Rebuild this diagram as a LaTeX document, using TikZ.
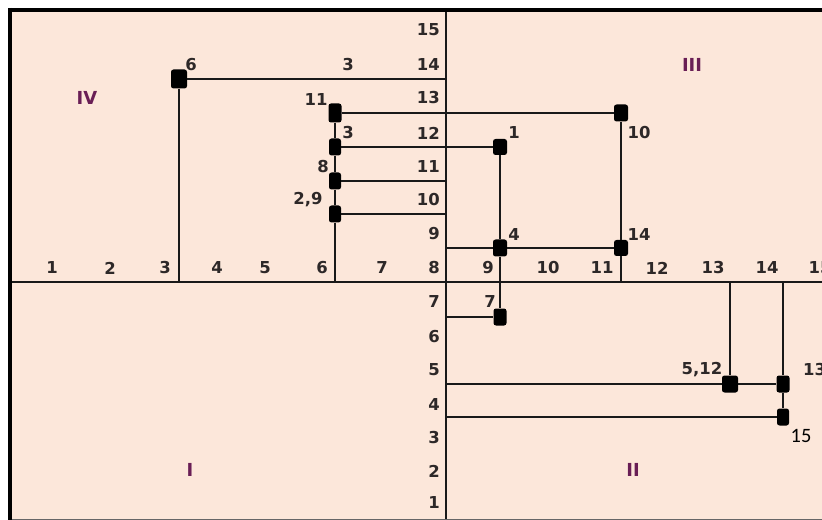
\documentclass[tikz,border=0pt]{standalone}
\usepackage{fontspec}
\setmainfont{DejaVu Sans}
\newfontfamily\plainfont{Carlito}
\definecolor{paper}{RGB}{252,231,218}
\definecolor{numc}{RGB}{45,40,40}
\definecolor{romc}{RGB}{105,30,85}
\definecolor{linec}{RGB}{25,25,25}
\begin{document}
\begin{tikzpicture}[x=1bp,y=-1bp,
  lbl/.style={font=\fontsize{16.5}{16.5}\selectfont\bfseries, text=numc, inner sep=0pt},
  quad/.style={font=\fontsize{18}{18}\selectfont\bfseries, text=romc, inner sep=0pt},
  pt/.style={fill=black, rounded corners=2.5bp, minimum width=13bp, minimum height=17bp, inner sep=0pt},
  link/.style={line width=1.6bp, draw=linec},
  axis/.style={line width=1.9bp, draw=linec},
]
\useasboundingbox (0,0) rectangle (822,520);

% sheet and frame
\fill[paper] (12,12) rectangle (830,519);
\draw[line width=4bp] (10,8) -- (10,520);
\draw[line width=4bp] (8,10) -- (830,10);
\draw[line width=1bp, draw=black!60] (12,519.3) -- (830,519.3);

% axes
\draw[axis] (12,282) -- (830,282);
\draw[axis] (446,12) -- (446,519);

% row numbers along the vertical axis
\foreach \n/\y in {15/30,14/65,13/98,12/133,11/167,10/200,9/234,8/268,
                   7/302,6/337,5/370,4/405,3/438,2/471,1/503}
  \node[lbl, anchor=east] (r\n) at (440,\y) {\n};

% column numbers along the horizontal axis
\foreach \n/\x in {1/52,2/110,3/165,4/217,5/265,6/322,7/382,
                   9/488,10/548,11/602,12/657,13/713,14/767,15/820}
  \node[lbl] (c\n) at (\x,268) {\n};

% quadrant names
\node[quad] (qIV) at (87,98) {IV};
\node[quad] (qIII) at (692,65) {III};
\node[quad] (qI) at (190,470) {I};
\node[quad] (qII) at (633,470) {II};

% points
\node[pt, minimum width=16bp, minimum height=19bp] (p6) at (179,79) {};
\node[pt, minimum height=19bp] (p11) at (335,113) {};
\node[pt, minimum width=12bp] (p3) at (335,147) {};
\node[pt, minimum width=12bp] (p8) at (335,181) {};
\node[pt, minimum width=12bp] (p29) at (335,214) {};
\node[pt, minimum width=14bp, minimum height=16bp] (p1) at (500,147) {};
\node[pt, minimum width=14bp] (p10) at (621,113) {};
\node[pt, minimum width=14bp] (p4) at (500,248) {};
\node[pt, minimum width=14bp, minimum height=16bp] (p14) at (621,248) {};
\node[pt] (p7) at (500,317) {};
\node[pt, minimum width=16bp] (p512) at (730,384) {};
\node[pt] (p13) at (783,384) {};
\node[pt, minimum width=12bp] (p15) at (783,417) {};

% point labels
\node[lbl] (l6) at (191,65) {6};
\node[lbl] (l3a) at (348,65) {3};
\node[lbl] (l11) at (316,100) {11};
\node[lbl] (l3) at (348,133) {3};
\node[lbl] (l8) at (323,167) {8};
\node[lbl] (l29) at (308,200) {2,9};
\node[lbl] (l1) at (514,133) {1};
\node[lbl] (l10) at (639,133) {10};
\node[lbl] (l4) at (514,235) {4};
\node[lbl] (l14) at (639,235) {14};
\node[lbl] (l7) at (490,302) {7};
\node[lbl] (l512) at (702,370) {5,12};
\node[lbl, anchor=west] (l13) at (803,370) {13};
\node[inner sep=0pt, font=\fontsize{20.5}{20.5}\selectfont\plainfont] (l15) at (801,436) {15};

% free ends on the axes
\coordinate (y14) at (446,79);
\coordinate (y12) at (446,147);
\coordinate (y11) at (446,181);
\coordinate (y10) at (446,214);
\coordinate (y9) at (446,248);
\coordinate (y7) at (446,317);
\coordinate (y5) at (446,384);
\coordinate (y4) at (446,417);
\coordinate (x3) at (179,282);
\coordinate (x6) at (335,282);
\coordinate (x11) at (621,282);
\coordinate (x13) at (730,282);
\coordinate (x14) at (783,282);

% connectors
\draw[link] (p6) -- (y14);
\draw[link] (p6) -- (x3);
\draw[link] (p11) -- (p10);
\draw[link] (p11) -- (p3) -- (p8) -- (p29) -- (x6);
\draw[link] (p3) -- (p1);
\draw[link] (p8) -- (y11);
\draw[link] (p29) -- (y10);
\draw[link] (p1) -- (p4) -- (p7);
\draw[link] (p10) -- (p14) -- (x11);
\draw[link] (y9) -- (p4) -- (p14);
\draw[link] (y7) -- (p7);
\draw[link] (y5) -- (p512) -- (p13);
\draw[link] (y4) -- (p15);
\draw[link] (x13) -- (p512);
\draw[link] (x14) -- (p13) -- (p15);
\end{tikzpicture}
\end{document}
